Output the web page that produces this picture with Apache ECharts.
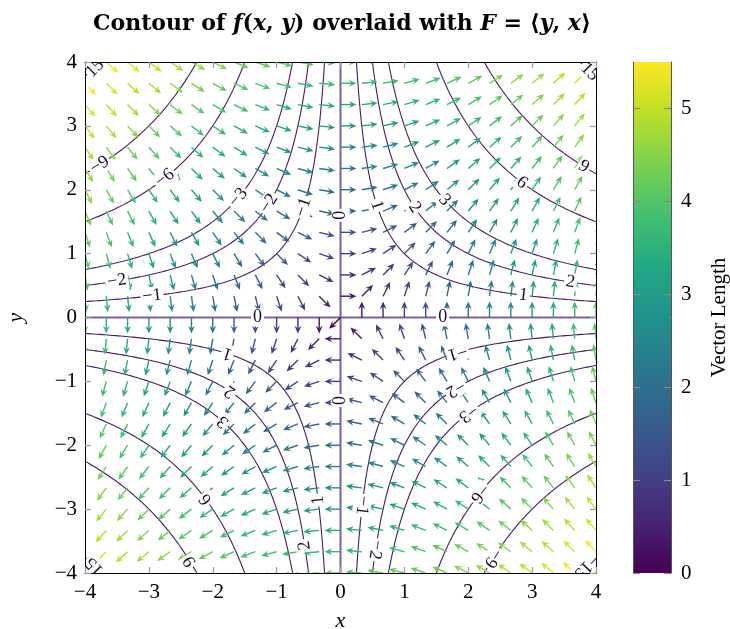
<!DOCTYPE html>
<html>
<head>
<meta charset="utf-8">
<script src="https://cdn.jsdelivr.net/npm/echarts@6/dist/echarts.min.js"></script>
<style>
  html, body { margin: 0; padding: 0; background: #fff; }
  #chart { width: 730px; height: 629px; }
</style>
</head>
<body>
<div id="chart"></div>
<script>
// Sample positions of the vector field (same list for x and y)
const quiverTicks = [-4, -11/3, -10/3, -3, -8/3, -7/3, -2, -5/3, -4/3, -1, -2/3, -1/3, 0,
                     1/3, 2/3, 1, 4/3, 5/3, 2, 7/3, 8/3, 3, 10/3, 11/3, 4];
// Contour levels of f(x, y) = x·y
const contourLevels = [-15, -9, -6, -3, -2, -1, 0, 1, 2, 3, 6, 9, 15];
// Axis ticks
const axisTicks = [-4, -3, -2, -1, 0, 1, 2, 3, 4];
const colorbarTicks = [0, 1, 2, 3, 4, 5];
const colorbarMax = 5.5;
// Inline contour labels: [level, x] (label sits on the curve x·y = level)
const curveLabels = [
  [-15, -3.9], [-9, -3.77], [-6, -2.75], [-3, -1.6], [-2, -1.12], [-1, -0.58],
  [-2, -3.5], [-1, -2.95],
  [15, 3.9], [9, 3.81], [6, 2.84], [3, 1.63], [2, 1.16], [1, 0.57],
  [1, 2.86], [2, 3.6],
  [15, -3.85], [9, -2.36], [6, -2.11], [3, -1.84], [2, -1.73], [1, -1.77],
  [1, -0.35], [2, -0.56],
  [-15, 3.85], [-9, 2.39], [-6, 2.18], [-3, 2.0], [-2, 1.8], [-1, 1.83],
  [-1, 0.34], [-2, 0.55]
];
// Labels of the zero level: positions along x = 0 (y values) and along y = 0 (x values)
const zeroLabelsOnXEqualsZero = [1.6, -1.3];
const zeroLabelsOnYEqualsZero = [-1.3, 1.6];
// Heading used for the zero vector at the origin
const originHeading = [-1, -1];

const viridis = ['#440154', '#482475', '#414487', '#355f8d', '#2a788e', '#21918c',
                 '#22a884', '#44bf70', '#7ad151', '#bddf26', '#fde725'];

const SERIF = '"Liberation Serif"';
const TITLE_SERIF = '"DejaVu Serif"';
const minus = s => String(s).replace('-', '\u2212');

// Vector field F = <y, x>
const arrows = [];
quiverTicks.forEach(x => {
  quiverTicks.forEach(y => {
    const u = y, v = x;
    arrows.push([x, y, u, v, Math.hypot(u, v)]);
  });
});

// Contour branches of x·y = c
const contourSeries = [];
contourLevels.forEach(c => {
  if (c === 0) {
    [[[-4, 0], [4, 0]], [[0, -4], [0, 4]]].forEach(seg => {
      contourSeries.push({
        type: 'line', data: seg, showSymbol: false, silent: true, z: 2,
        lineStyle: { color: '#7e5fa1', width: 2 }
      });
    });
    return;
  }
  const a = Math.abs(c) / 4;
  [1, -1].forEach(sign => {
    const pts = [];
    const N = 240;
    for (let k = 0; k <= N; k++) {
      const x = sign * a * Math.pow(4 / a, k / N);
      pts.push([x, c / x]);
    }
    contourSeries.push({
      type: 'line', data: pts, showSymbol: false, silent: true, z: 2,
      lineStyle: { color: '#461a6e', width: 1.1 }
    });
  });
});

// Label records: [x, y, text, rotation(rad)]
const labelData = [];
curveLabels.forEach(([c, x]) => {
  const y = c / x;
  let rot = Math.atan(-c / (x * x));
  if (y < 0) rot += Math.PI;
  labelData.push([x, y, minus(c), rot]);
});
zeroLabelsOnXEqualsZero.forEach(y => labelData.push([0, y, '0', Math.PI / 2]));
zeroLabelsOnYEqualsZero.forEach(x => labelData.push([x, 0, '0', 0]));

const chart = echarts.init(document.getElementById('chart'), null, { renderer: 'canvas' });

const tickStyle = { show: true, inside: true, length: 6, lineStyle: { color: '#a0a0a0', width: 1.3 } };
const frameLine = { show: true, onZero: false, lineStyle: { color: '#000', width: 1 } };
const labelFont = { fontFamily: SERIF, fontSize: 21, color: '#000' };

const option = {
  animation: false,
  backgroundColor: '#fff',
  title: {
    left: 337, top: 8, textAlign: 'center',
    text: '{b|Contour of }{i|f}{n|(}{i|x}{n|, }{i|y}{n|)}{b| overlaid with }{bi|F}{n| = \u27e8}{i|y}{n|, }{i|x}{n|\u27e9}',
    textStyle: {
      rich: {
        b: { fontFamily: TITLE_SERIF, fontSize: 22, fontWeight: 'bold', color: '#000' },
        n: { fontFamily: TITLE_SERIF, fontSize: 22, color: '#000' },
        i: { fontFamily: TITLE_SERIF, fontSize: 22, fontStyle: 'italic', color: '#000' },
        bi: { fontFamily: TITLE_SERIF, fontSize: 22, fontStyle: 'italic', fontWeight: 'bold', color: '#000' }
      }
    }
  },
  grid: [
    { left: 85, top: 62, width: 511, height: 511, containLabel: false, outerBoundsMode: 'none' },
    { left: 633, top: 62, width: 38, height: 511, containLabel: false, outerBoundsMode: 'none' }
  ],
  xAxis: [
    { type: 'value', gridIndex: 0, min: -4, max: 4, interval: 1, z: 10,
      axisLine: frameLine, axisTick: tickStyle, splitLine: { show: false },
      axisLabel: Object.assign({ margin: 9, formatter: minus }, labelFont),
      name: 'x', nameLocation: 'middle', nameGap: 37,
      nameTextStyle: { fontFamily: SERIF, fontSize: 22, fontStyle: 'italic', color: '#000' } },
    { type: 'value', gridIndex: 0, min: -4, max: 4, interval: 1, position: 'top', z: 10,
      axisLine: frameLine, axisTick: tickStyle, splitLine: { show: false },
      axisLabel: { show: false } },
    { type: 'value', gridIndex: 1, min: 0, max: 1, show: false }
  ],
  yAxis: [
    { type: 'value', gridIndex: 0, min: -4, max: 4, interval: 1, z: 10,
      axisLine: frameLine, axisTick: tickStyle, splitLine: { show: false },
      axisLabel: Object.assign({ margin: 8, formatter: minus }, labelFont),
      name: 'y', nameLocation: 'middle', nameGap: 58,
      nameTextStyle: { fontFamily: SERIF, fontSize: 22, fontStyle: 'italic', color: '#000' } },
    { type: 'value', gridIndex: 0, min: -4, max: 4, interval: 1, position: 'right', z: 10,
      axisLine: frameLine, axisTick: tickStyle, splitLine: { show: false },
      axisLabel: { show: false } },
    { type: 'value', gridIndex: 1, min: 0, max: colorbarMax, position: 'right', z: 10,
      axisLine: { show: true, onZero: false, lineStyle: { color: '#555', width: 1 } },
      axisTick: { show: true, inside: true, length: 7, customValues: colorbarTicks,
                  lineStyle: { color: '#888', width: 1.2 } },
      axisLabel: Object.assign({ margin: 10, customValues: colorbarTicks }, labelFont),
      splitLine: { show: false },
      name: 'Vector Length', nameLocation: 'middle', nameGap: 38, nameRotate: 90,
      nameTextStyle: { fontFamily: SERIF, fontSize: 21, color: '#000' } },
    { type: 'value', gridIndex: 1, min: 0, max: colorbarMax, position: 'left', z: 10,
      axisLine: { show: true, onZero: false, lineStyle: { color: '#555', width: 1 } },
      axisTick: { show: true, inside: true, length: 7, customValues: colorbarTicks,
                  lineStyle: { color: '#888', width: 1.2 } },
      axisLabel: { show: false }, splitLine: { show: false } }
  ],
  visualMap: {
    show: false, type: 'continuous', min: 0, max: colorbarMax, dimension: 4,
    seriesIndex: contourSeries.length, inRange: { color: viridis }
  },
  series: [
    ...contourSeries,
    {
      // arrows of unit heading, coloured by vector length
      type: 'custom', data: arrows, clip: true, z: 3, silent: true,
      renderItem(params, api) {
        const x = api.value(0), y = api.value(1);
        let u = api.value(2), v = api.value(3);
        if (u === 0 && v === 0) { u = originHeading[0]; v = originHeading[1]; }
        const p = api.coord([x, y]);
        const n = Math.hypot(u, v);
        const dx = u / n, dy = -v / n;
        const L = 16, H = 7, W = 3.4;
        const tip = [p[0] + dx * L, p[1] + dy * L];
        const base = [tip[0] - dx * H, tip[1] - dy * H];
        const nx = -dy, ny = dx;
        const color = api.visual('color');
        return {
          type: 'group',
          children: [
            { type: 'line',
              shape: { x1: p[0], y1: p[1], x2: base[0] + dx * 2, y2: base[1] + dy * 2 },
              style: { stroke: color, lineWidth: 1.4 } },
            { type: 'polygon',
              shape: { points: [tip,
                [base[0] + nx * W - dx * 0.8, base[1] + ny * W - dy * 0.8],
                [base[0] + dx * 2, base[1] + dy * 2],
                [base[0] - nx * W - dx * 0.8, base[1] - ny * W - dy * 0.8]] },
              style: { fill: color } }
          ]
        };
      }
    },
    {
      // inline contour labels
      type: 'custom', data: labelData, clip: true, z: 4, silent: true,
      renderItem(params, api) {
        const p = api.coord([api.value(0), api.value(1)]);
        const d = labelData[params.dataIndex];
        return {
          type: 'text', x: p[0], y: p[1], rotation: d[3],
          style: { text: d[2], fill: '#1e0b30', font: '18px ' + SERIF,
                   align: 'center', verticalAlign: 'middle',
                   backgroundColor: '#fff', padding: [0, 2] }
        };
      }
    },
    {
      // colour bar
      type: 'custom', xAxisIndex: 2, yAxisIndex: 2, data: [[0.5, 0]], z: 1, silent: true,
      renderItem(params) {
        const cs = params.coordSys;
        return {
          type: 'rect', shape: { x: cs.x, y: cs.y, width: cs.width, height: cs.height },
          style: { fill: new echarts.graphic.LinearGradient(0, 1, 0, 0,
            viridis.map((c, i) => ({ offset: i / (viridis.length - 1), color: c }))) }
        };
      }
    }
  ]
};
chart.setOption(option);
</script>
</body>
</html>
